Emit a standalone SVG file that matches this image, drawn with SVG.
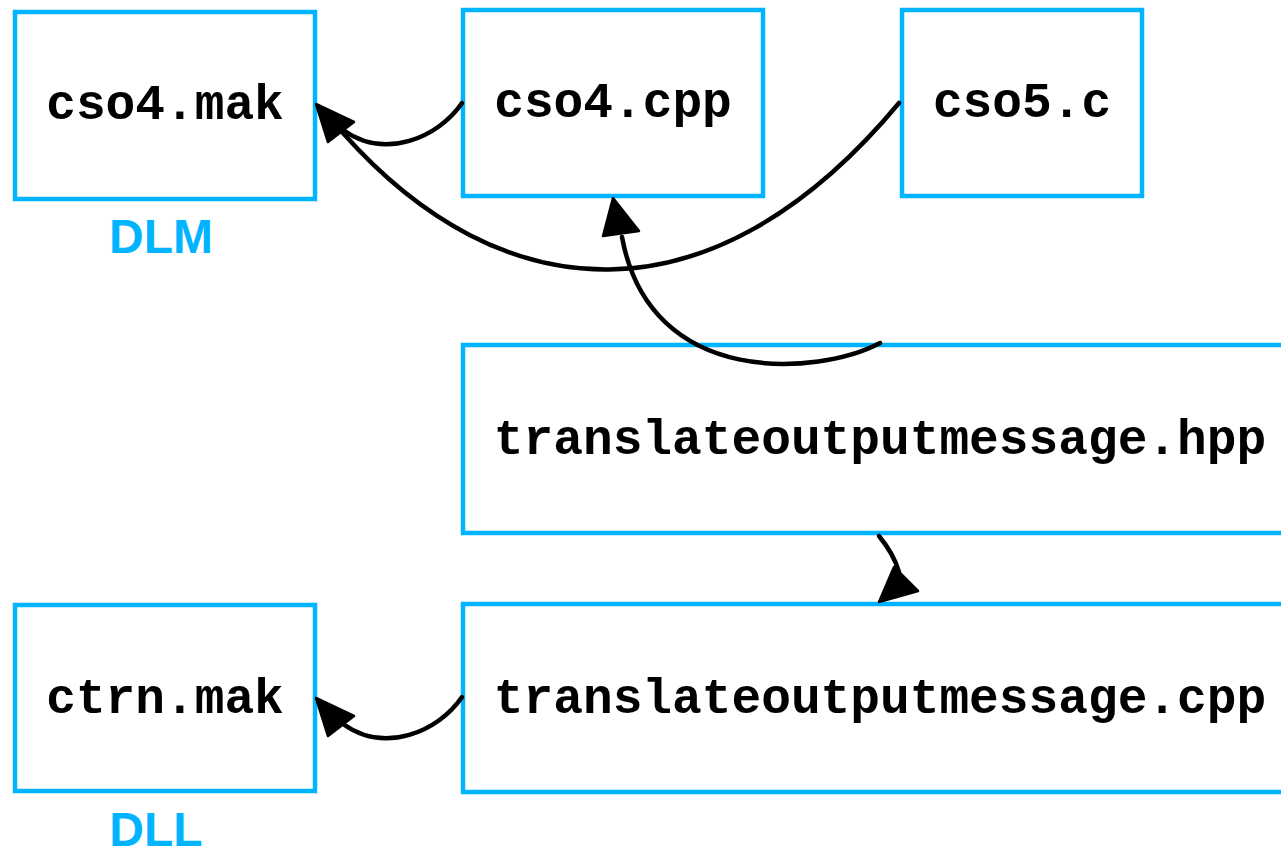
<svg xmlns="http://www.w3.org/2000/svg" width="1281" height="849" viewBox="0 0 1281 849">
<style>
.box{fill:#fff;stroke:#00b4ff;stroke-width:4.5}
.lbl{font-family:"Liberation Mono","Courier New",monospace;font-weight:bold;font-size:49.5px;fill:#000;text-anchor:middle}
.tag{font-family:"Liberation Sans",Arial,sans-serif;font-weight:bold;font-size:48px;fill:#00b4ff;text-anchor:middle}
.edge{fill:none;stroke:#000;stroke-width:4.5;stroke-linecap:round}
.head{fill:#000;stroke:#000;stroke-width:2.5;stroke-linejoin:round}
</style>
<rect width="1281" height="849" fill="#fff"/>
<g id="node-cso4mak">
<rect class="box" x="15" y="12" width="300" height="187"/>
<text class="lbl" x="165" y="119">cso4.mak</text>
<text class="tag" x="161" y="253">DLM</text>
</g>
<g id="node-cso4cpp">
<rect class="box" x="463" y="10" width="300" height="186"/>
<text class="lbl" x="613" y="117">cso4.cpp</text>
</g>
<g id="node-cso5c">
<rect class="box" x="902" y="10" width="240" height="186"/>
<text class="lbl" x="1022" y="117">cso5.c</text>
</g>
<g id="node-hpp">
<rect class="box" x="463" y="345" width="833" height="188"/>
<text class="lbl" x="880" y="454">translateoutputmessage.hpp</text>
</g>
<g id="node-tcpp">
<rect class="box" x="463" y="604" width="833" height="188"/>
<text class="lbl" x="880" y="713">translateoutputmessage.cpp</text>
</g>
<g id="node-ctrnmak">
<rect class="box" x="15" y="605" width="300" height="186"/>
<text class="lbl" x="165" y="713">ctrn.mak</text>
<text class="tag" x="156" y="846">DLL</text>
</g>
<g id="connectors">
<path class="edge" d="M462,103 C438,138 385,160 343,130"/>
<polygon class="head" points="316,104 328,142 354,122"/>
<path class="edge" d="M899,103 C710,330 500,310 343,133"/>
<path class="edge" d="M880,343 C820,375 650,390 622,237"/>
<polygon class="head" points="613,198 603,236 639,231"/>
<path class="edge" d="M879,536 C888,547 895,558 899,572"/>
<polygon class="head" points="879,602 894,567 918,591"/>
<path class="edge" d="M462,697 C438,732 385,754 343,724"/>
<polygon class="head" points="316,698 328,736 354,716"/>
</g>
</svg>
